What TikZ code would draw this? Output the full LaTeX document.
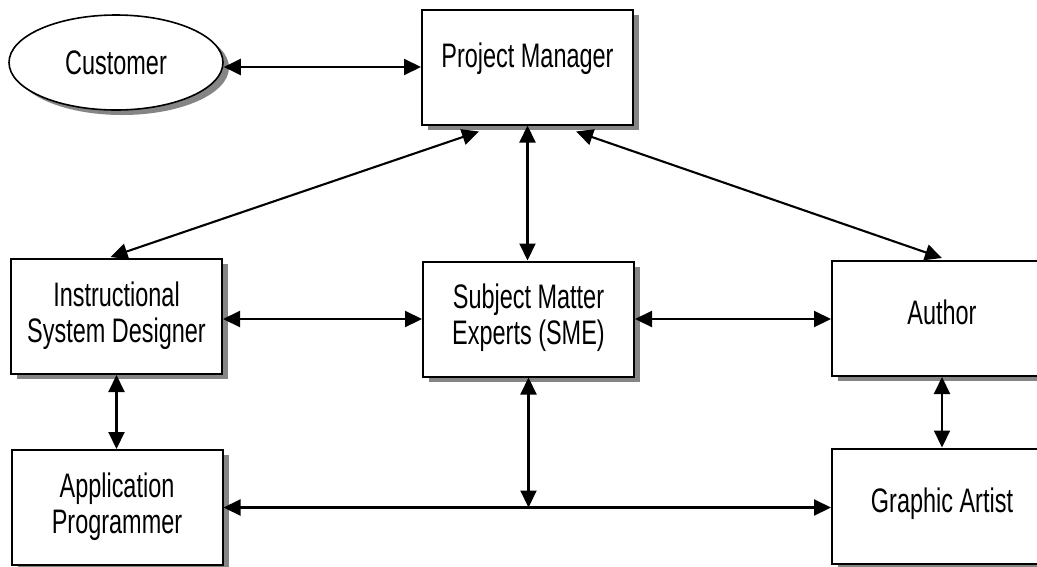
\documentclass[tikz,border=0pt]{standalone}
\usepackage{fontspec}
\setmainfont{Liberation Sans}[FakeStretch=0.69]
\usetikzlibrary{arrows.meta,shapes.geometric,shadows,calc}
\newcommand{\topstrut}{\rule{0pt}{25pt}}
\newcommand{\botstrut}{\rule[-10pt]{0pt}{0pt}}
\begin{document}
\begin{tikzpicture}[x=1pt,y=-1pt,
  every node/.style={font=\fontsize{34}{36}\selectfont},
  shad/.style={drop shadow={shadow xshift=6pt,shadow yshift=-5pt,fill=black!48,opacity=1}},
  box/.style={draw=black,line width=2pt,fill=white,shad,rectangle,inner sep=0pt,
    minimum width=211pt,minimum height=115pt,align=center},
  onel/.style={text height=25pt,text depth=13pt},
  ell/.style={draw=black,line width=1.6pt,fill=white,shad,ellipse,inner sep=0pt,
    minimum width=214pt,minimum height=95pt,text height=24.5pt,text depth=0pt},
  arr/.style={line width=2.1pt,{Triangle[length=17pt,width=16pt]}-{Triangle[length=17pt,width=16pt]}}]
\useasboundingbox (0,0) rectangle (1037,566);
\fill[white] (0,0) rectangle (1037,566);
\clip (0,0) rectangle (1037,566);
% nodes
\node[ell] (cu) at (116,62.5) {Customer};
\node[box,text height=25pt,text depth=25pt] (pm) at (527.5,67) {Project Manager};
\node[box] (isd) at (116.5,316.5) {\topstrut Instructional\\System Designer\botstrut};
\node[box] (sme) at (528.5,319) {\topstrut Subject Matter\\Experts (SME)\botstrut};
\node[box,onel,minimum width=220pt] (au) at (942,318.5) {Author};
\node[box] (ap) at (117,507.5) {\topstrut Application\\Programmer\botstrut};
\node[box,onel,minimum width=220pt] (ga) at (942,506) {Graphic Artist};
% connectors
\draw[arr] (pm.west -| cu.east) -- (pm.west);
\draw[arr] ($(pm.south west)+(58,6)$) -- ($(isd.north)+(-6,-1)$);
\draw[arr] (pm.south) -- (pm.south |- sme.north);
\draw[arr] ($(pm.south east)+(-58,6)$) -- ($(au.north)+(0,-2)$);
\draw[arr] (sme.west -| isd.east) -- (sme.west);
\draw[arr] (sme.east) -- (sme.east -| au.west);
\draw[arr] (isd.south) -- (isd.south |- ap.north);
\draw[arr] (au.south) -- (ga.north);
\draw[arr] (ap.east) -- (ap.east -| ga.west);
\draw[arr] (sme.south) -- (sme.south |- ap.east);
\end{tikzpicture}
\end{document}
